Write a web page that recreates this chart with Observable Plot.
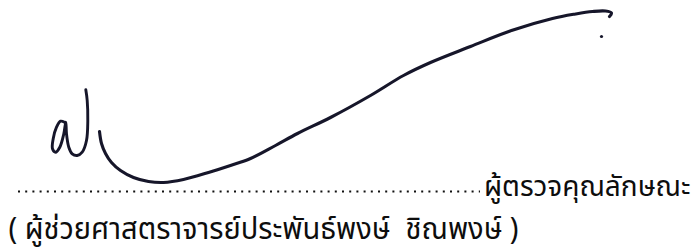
<!DOCTYPE html>
<html>
<head>
<meta charset="utf-8">
<script src="https://cdn.jsdelivr.net/npm/d3@7"></script>
<script src="https://cdn.jsdelivr.net/npm/@observablehq/plot@0.6"></script>
<style>
  html, body { margin: 0; padding: 0; background: #ffffff; }
  #chart svg { display: block; }
</style>
</head>
<body>
<div id="chart"></div>
<script>
// Signature stroke 1: the small looped letter and its upright stem
const loopX = [64, 60, 56, 52.7, 52, 55, 59.3, 63.3, 65.3, 66, 68.3, 71.7, 76.7, 81.7, 86, 87.3, 86.7, 85.3];
const loopY = [121.7, 120.7, 126.7, 138.3, 148.3, 151.7, 146.7, 133.3, 121.7, 133.3, 146.7, 153.3, 155, 151.7, 140, 120, 100, 89.3];

// Signature stroke 2: the long swoosh ending in a small hook
const swooshX = [99, 101, 105, 111, 120, 133, 148, 163, 183, 208, 230, 250, 275, 297, 330, 370, 403, 430, 470, 511, 552, 575, 592, 605, 611, 609];
const swooshY = [131, 143, 153, 162, 170, 177, 181, 182, 179, 172, 165, 158, 145, 133, 117, 95, 75, 62, 46, 30, 18, 13.5, 11, 10.5, 12.5, 16];

// The dot after the signature
const dotX = [601];
const dotY = [36];

// Dotted signature line
const leaderX1 = [18];
const leaderX2 = [480];
const leaderY = [191];

// Role label after the dotted line
const roleLabel = ["ผู้ตรวจคุณลักษณะ"];
const roleX = [690];
const roleY = [195];

// Name line
const nameLabel = ["( ผู้ช่วยศาสตราจารย์ประพันธ์พงษ์  ชิณพงษ์ )"];
const nameX = [8];
const nameY = [238];
const nameWidth = [510];

const ink = "#16162a";
const font = "'Noto Sans Thai', 'Tahoma', 'Loma', 'Garuda', sans-serif";

const loop = loopX.map((x, i) => ({x, y: loopY[i]}));
const swoosh = swooshX.map((x, i) => ({x, y: swooshY[i]}));
const dots = dotX.map((x, i) => ({x, y: dotY[i]}));
const leader = leaderX1.map((x1, i) => ({x1, x2: leaderX2[i], y: leaderY[i]}));
const roles = roleLabel.map((t, i) => ({t, x: roleX[i], y: roleY[i]}));
const names = nameLabel.map((t, i) => ({t, x: nameX[i], y: nameY[i], w: nameWidth[i]}));

const plot = Plot.plot({
  width: 700,
  height: 251,
  margin: 0,
  style: {background: "#ffffff", fontFamily: font},
  x: {domain: [0, 700], range: [0, 700], axis: null},
  y: {domain: [0, 251], range: [0, 251], axis: null},
  marks: [
    Plot.ruleY(leader, {x1: "x1", x2: "x2", y: "y", stroke: "#111", strokeWidth: 2.2, strokeDasharray: "2,5.2"}),
    Plot.text(roles, {x: "x", y: "y", text: "t", textAnchor: "end", lineAnchor: "bottom", fontSize: 28, fill: "#0d0d0d"}),
    Plot.text(names, {x: "x", y: "y", text: "t", textAnchor: "start", lineAnchor: "bottom", fontSize: 30, fill: "#0d0d0d", className: "name"}),
    Plot.line(loop, {x: "x", y: "y", curve: "catmull-rom", stroke: ink, strokeWidth: 2.9, strokeLinecap: "round", strokeLinejoin: "round"}),
    Plot.line(swoosh, {x: "x", y: "y", curve: "catmull-rom", stroke: ink, strokeWidth: 3.1, strokeLinecap: "round", strokeLinejoin: "round"}),
    Plot.dot(dots, {x: "x", y: "y", r: 1.6, fill: ink})
  ]
});

document.getElementById("chart").appendChild(plot);

// fit the name line to the width it occupies in the scan
d3.select(plot).selectAll("g.name text").each(function(d, i) {
  d3.select(this).attr("textLength", names[i].w).attr("lengthAdjust", "spacingAndGlyphs");
});
</script>
</body>
</html>
